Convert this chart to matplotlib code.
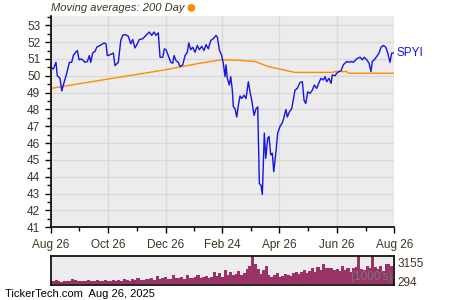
import matplotlib
matplotlib.use("Agg")
import matplotlib.pyplot as plt
import matplotlib.dates as mdates
from matplotlib.ticker import MultipleLocator
import numpy as np
import pandas as pd

plt.rcParams['font.family'] = ['Liberation Sans', 'DejaVu Sans']

start = pd.Timestamp("2024-08-26")

# price, day offset from Aug 26 2024
price_days = [0, 2.8, 5.6, 7, 9.9, 11.7, 13.4, 17, 19.8, 22.3, 24, 25.8, 28.3, 30.1, 32.9,
              36.4, 38.9, 41, 42.5, 44.6, 47.1, 48.9, 52.4, 56.6, 58.7, 60.1, 63, 66.5, 68.3,
              70.1, 71.8, 74.4, 76.5, 78.9, 82.4, 85, 87.1, 89.5, 92, 94.1, 97.7, 101.2, 104.7,
              107.3, 109.7, 111.9, 114.3, 116.1, 119, 120.7, 122.5, 124.9, 127.5, 129.6, 131,
              133.1, 135.5, 137.3, 140.2, 142.7, 145.1, 146.6, 148.7, 150.8, 153.3, 155.7, 157.9,
              160.4, 162.8, 165, 167.4, 170, 172.7, 175.6, 177, 179.1, 181.6, 183.3, 185.2, 186.2,
              187.6, 189.7, 191.2, 192.9, 194, 195.8, 197.6, 199.3, 201.1, 202.9, 205.3, 207.5,
              209.9, 211.7, 213.5, 216, 218.1, 219.9, 221.6, 223.4, 224.8, 226.9, 228.4, 230.5,
              231.9, 233.7, 235.4, 236.9, 239.3, 241.1, 243.6, 246, 247.1, 249.9, 251.3, 253.5,
              256, 257.7, 259.5, 261.9, 264.8, 267.3, 269.1, 270.9, 273, 275.4, 277.9, 280, 282.6,
              285, 287.1, 289.6, 291.4, 293.2, 295.6, 297.8, 299.1, 302, 303.8, 306.2, 308.4,
              310.8, 314.4, 316.9, 319, 321.4, 324, 326.1, 328.6, 331, 333.1, 335.7, 338.1, 340.2,
              341.6, 343.7, 346.3, 348.7, 350.9, 353.3, 355.9, 358, 360.4, 362.2, 365]
price = [50.5, 50.4, 50.8, 50.0, 49.85, 49.1, 49.45, 50.15, 50.8, 50.8, 51.2, 51.35, 51.5, 50.95, 51.0,
         50.8, 50.85, 51.2, 50.8, 51.35, 51.45, 51.7, 51.8, 51.95, 51.9, 51.2, 51.25, 51.35, 50.6,
         50.7, 50.8, 52.1, 52.4, 52.45, 52.35, 51.9, 52.15, 51.65, 51.9, 52.15, 52.2, 52.4, 52.6,
         52.4, 52.6, 52.4, 52.55, 51.1, 51.1, 51.6, 51.55, 51.2, 50.8, 50.75, 51.2,
         50.9, 50.8, 50.55, 50.65, 51.2, 51.4, 51.95, 51.55, 51.7, 51.4, 51.8, 51.55,
         51.75, 51.5, 51.85, 51.6, 52.1, 52.2, 52.4, 52.3, 51.55, 51.2, 50.75, 49.95, 50.65,
         49.85, 49.45, 49.95, 49.15, 48.15, 48.05, 47.55, 48.25, 48.8, 48.65, 48.85, 48.65,
         49.65, 49.05, 48.55, 47.65, 48.05, 48.15, 43.6, 43.5, 42.95, 46.6, 45.1, 46.3,
         46.4, 45.3, 45.4, 44.3, 45.5, 46.6, 47.0, 47.2, 47.4, 48.0, 47.55, 47.85,
         48.05, 48.6, 49.15, 49.25, 49.6, 49.65, 48.55, 48.35, 49.05, 48.95, 49.15, 49.45, 49.25,
         49.6, 49.85, 49.75, 49.95, 49.65, 49.85, 49.55, 50.05, 50.0, 50.15, 50.25, 50.3,
         50.65, 50.85, 50.8, 50.85, 50.8, 50.95, 51.05, 51.1, 50.95, 51.1, 50.95, 50.75, 50.25,
         50.85, 50.95, 51.15, 51.35, 51.7, 51.8, 51.7, 51.35, 50.8, 51.35, 51.35]

ma_days = [0, 60.1, 122.2, 158.6, 181.6, 199.3, 217, 231.1, 247.1, 259.5, 298.5, 303, 314.4, 316.6, 365]
ma_vals = [49.25, 49.8, 50.36, 50.75, 50.95, 50.92, 50.85, 50.55, 50.35, 50.2, 50.2, 50.25, 50.25, 50.15, 50.15]

# volume in thousands, roughly every other trading day
volume = [450, 380, 520, 420, 360, 480, 400, 450, 700, 520, 430, 380, 470, 400, 520, 430, 500, 600,
          450, 420, 650, 480, 400, 550, 450, 520, 480, 800, 600, 500,
          700, 550, 900, 600, 650, 800, 700, 950, 600, 1200, 750, 900, 1100, 800, 700, 1300, 850,
          900, 1000, 800, 1300, 950, 850, 1100, 1350, 900, 1000, 1200, 950, 1100,
          1800, 1200, 1600, 1100, 2000, 1400, 1700, 1300, 1500, 1900, 1300, 1600, 2200, 2600,
          4100, 3000,
          2200, 1500, 2000, 2600, 1400, 1100, 1400, 1600, 1000, 1200, 1500, 1400, 1200, 1600,
          1800, 1500, 1700, 2000, 1600, 1900, 2300, 1800, 2500, 2100, 2900, 2300, 2400,
          2300, 2000, 2200, 1900, 2600, 2100, 2400, 1800, 2300, 2500, 4100, 2200, 2000, 2700,
          2300, 4150, 2500, 2200, 2700, 1900, 3000, 2900, 2600, 800]

xticks = ["2024-08-26", "2024-10-26", "2024-12-26", "2025-02-24", "2025-04-26",
          "2025-06-26", "2025-08-26"]
xlabels = ["Aug 26", "Oct 26", "Dec 26", "Feb 24", "Apr 26", "Jun 26", "Aug 26"]

text_col = "#3f3422"
bg = "#ececec"

p_dates = start + pd.to_timedelta(price_days, unit="D")
m_dates = start + pd.to_timedelta(ma_days, unit="D")
end = pd.Timestamp("2025-08-26")
v_dates = pd.date_range(start, end, periods=len(volume))

fig = plt.figure(figsize=(4.5, 3), dpi=100)
ax = fig.add_axes([0.1127, 0.2423, 0.7636, 0.7043])
ax.set_facecolor(bg)
ax.plot(m_dates, ma_vals, color="#ff8c00", lw=1.0)
ax.plot(p_dates, price, color="#1515e0", lw=1.0)
ax.set_xlim(start, end)
ax.set_ylim(41, 53.55)
ax.yaxis.set_major_locator(MultipleLocator(1))
ax.yaxis.set_minor_locator(MultipleLocator(0.5))
tick_dates = pd.to_datetime(xticks)
ax.set_xticks(tick_dates)
ax.set_xticklabels(xlabels)
mids = [tick_dates[i] + (tick_dates[i + 1] - tick_dates[i]) / 2 for i in range(len(tick_dates) - 1)]
ax.set_xticks(mids, minor=True)
ax.grid(True, which="major", color="#d9d9d9", lw=1.0)
ax.set_axisbelow(True)
for s in ["top", "right"]:
    ax.spines[s].set_visible(False)
ax.spines["left"].set_linewidth(1.2)
ax.spines["bottom"].set_linewidth(1.2)
ax.tick_params(axis="both", which="major", labelsize=8.5, colors="black", labelcolor=text_col,
               length=4, width=1)
ax.tick_params(axis="both", which="minor", length=3, width=1)
ax.tick_params(axis="x", pad=4.5)
ax.text(1.006, price[-1], "SPYI", transform=ax.get_yaxis_transform(), color="#1515e0",
        fontsize=8.5, va="center", ha="left")

fig.text(0.1127, 0.972, "Moving averages: 200 Day", fontsize=8, style="italic",
         color=text_col, va="center", ha="left")
fig.text(0.4244, 0.975, "\u25cf", fontsize=13, color="#ff8c00", va="center", ha="center")

vax = fig.add_axes([0.1127, 0.049, 0.7636, 0.0977])
vax.set_facecolor(bg)
vax.bar(v_dates, volume, width=3.3, color="#993366", linewidth=0, align="center")
vax.set_xlim(start, end)
vax.set_ylim(-200, 4150)
vax.set_xticks([])
vax.yaxis.tick_right()
vax.set_yticks([294, 3155])
vax.set_yticklabels(["294", "3155"])
vax.tick_params(axis="y", length=0, labelsize=8.5, labelcolor=text_col, pad=2)
for s in vax.spines.values():
    s.set_linewidth(1.2)
vax.text(0.995, 0.08, "(1000's)", transform=vax.transAxes, fontsize=8.5, color="#777777",
         ha="right", va="bottom")

fig.text(0.011, 0.02, "TickerTech.com  Aug 26, 2025", fontsize=8, color="black",
         ha="left", va="center")

fig.savefig("out.png", dpi=100)
